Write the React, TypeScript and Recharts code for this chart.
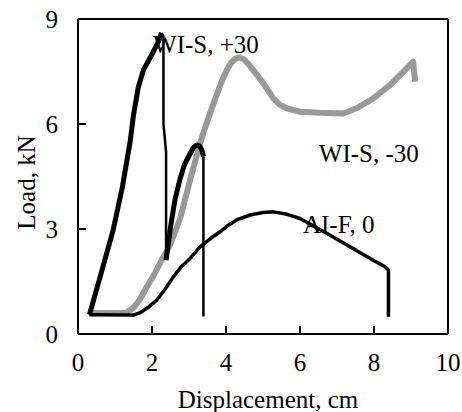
import { LineChart, Line, XAxis, YAxis, ReferenceLine, ReferenceDot, Label } from 'recharts';

// displacement (cm) / load (kN)
const plus30Rise = [
    { x: 0.31, y: 0.55 }, { x: 0.6, y: 1.64 }, { x: 0.95, y: 2.97 }, { x: 1.2, y: 4.2 },
    { x: 1.41, y: 5.5 }, { x: 1.5, y: 6.26 }, { x: 1.63, y: 7.05 }, { x: 1.77, y: 7.55 },
    { x: 1.99, y: 7.97 }, { x: 2.17, y: 8.35 }, { x: 2.26, y: 8.6 },
];
const plus30Drop = [
    { x: 2.26, y: 8.6 }, { x: 2.31, y: 8.5 }, { x: 2.31, y: 6.0 }, { x: 2.38, y: 5.2 },
    { x: 2.38, y: 2.15 },
];
const plus30Second = [
    { x: 2.38, y: 2.11 }, { x: 2.5, y: 3.05 }, { x: 2.62, y: 3.83 }, { x: 2.75, y: 4.4 },
    { x: 2.88, y: 4.85 }, { x: 3.03, y: 5.15 }, { x: 3.12, y: 5.33 }, { x: 3.21, y: 5.4 },
    { x: 3.29, y: 5.37 }, { x: 3.35, y: 5.25 }, { x: 3.39, y: 5.07 },
];
const plus30Fall = [
    { x: 3.39, y: 5.07 }, { x: 3.39, y: 0.5 },
];
const minus30 = [
    { x: 0.31, y: 0.6 }, { x: 1.31, y: 0.61 }, { x: 1.5, y: 0.75 }, { x: 1.68, y: 1.0 },
    { x: 1.86, y: 1.35 }, { x: 2.06, y: 1.7 }, { x: 2.26, y: 2.11 }, { x: 2.49, y: 2.55 },
    { x: 2.76, y: 3.3 }, { x: 3.03, y: 4.4 }, { x: 3.3, y: 5.45 }, { x: 3.5, y: 6.1 },
    { x: 3.7, y: 6.69 }, { x: 3.88, y: 7.2 }, { x: 4.02, y: 7.54 }, { x: 4.14, y: 7.75 },
    { x: 4.26, y: 7.87 }, { x: 4.36, y: 7.9 }, { x: 4.48, y: 7.85 }, { x: 4.6, y: 7.72 },
    { x: 4.74, y: 7.54 }, { x: 5.01, y: 7.16 }, { x: 5.28, y: 6.73 }, { x: 5.45, y: 6.55 },
    { x: 5.64, y: 6.45 }, { x: 6.0, y: 6.35 }, { x: 6.54, y: 6.32 }, { x: 7.17, y: 6.3 },
    { x: 7.53, y: 6.45 }, { x: 7.98, y: 6.73 }, { x: 8.43, y: 7.11 }, { x: 8.79, y: 7.49 },
    { x: 9.06, y: 7.78 }, { x: 9.11, y: 7.21 },
];
const aif0 = [
    { x: 0.31, y: 0.55 }, { x: 1.5, y: 0.54 }, { x: 1.7, y: 0.62 }, { x: 1.92, y: 0.78 },
    { x: 2.13, y: 0.97 }, { x: 2.35, y: 1.27 }, { x: 2.58, y: 1.64 }, { x: 2.8, y: 1.93 },
    { x: 3.03, y: 2.16 }, { x: 3.3, y: 2.49 }, { x: 3.57, y: 2.72 }, { x: 3.84, y: 2.92 },
    { x: 4.05, y: 3.1 }, { x: 4.29, y: 3.26 }, { x: 4.65, y: 3.4 }, { x: 5.0, y: 3.47 },
    { x: 5.28, y: 3.49 }, { x: 5.65, y: 3.42 }, { x: 6.0, y: 3.3 }, { x: 6.72, y: 2.88 },
    { x: 7.35, y: 2.49 }, { x: 7.98, y: 2.11 }, { x: 8.3, y: 1.92 }, { x: 8.39, y: 1.83 },
    { x: 8.39, y: 0.49 },
];

const xTicks = [0, 2, 4, 6, 8, 10];
const yTicks = [0, 3, 6, 9];
const notes = [
    { x: 2.03, y: 8.03, text: 'WI-S, +30' },
    { x: 6.51, y: 4.91, text: 'WI-S, -30' },
    { x: 6.08, y: 2.89, text: 'AI-F, 0' },
];

const font = '"Liberation Serif", "Times New Roman", serif';
const fontSize = 25;

const noteLabel = (text: string) => (props: any) => {
    const vb = props.viewBox || {};
    return (
        <text x={vb.x} y={vb.y} fontFamily={font} fontSize={fontSize} fill="#000" textAnchor="start">
            {text}
        </text>
    );
};

export default function App() {
    return (
        <div style={{ position: 'absolute', left: 0, top: 0, background: '#fff' }}>
            <LineChart width={462} height={412} margin={{ top: 19, right: 14, bottom: 0, left: 0 }}>
                <XAxis
                    type="number"
                    dataKey="x"
                    domain={[0, 10]}
                    ticks={xTicks}
                    allowDataOverflow
                    height={78}
                    tickSize={-8}
                    tickMargin={27}
                    tick={{ fill: '#000', fontSize, fontFamily: font }}
                    tickLine={{ stroke: '#000', strokeWidth: 2 }}
                    axisLine={{ stroke: '#000', strokeWidth: 2 }}
                >
                    <Label
                        content={(props: any) => {
                            const vb = props.viewBox;
                            return (
                                <text x={vb.x + vb.width / 2 + 5} y={vb.y + vb.height - 4} textAnchor="middle"
                                    fontFamily={font} fontSize={fontSize} fill="#000">
                                    Displacement, cm
                                </text>
                            );
                        }}
                    />
                </XAxis>
                <YAxis
                    type="number"
                    dataKey="y"
                    domain={[0, 9]}
                    ticks={yTicks}
                    allowDataOverflow
                    width={78}
                    tickSize={-8}
                    tickMargin={28}
                    tick={{ fill: '#000', fontSize, fontFamily: font }}
                    tickLine={{ stroke: '#000', strokeWidth: 2 }}
                    axisLine={{ stroke: '#000', strokeWidth: 2 }}
                >
                    <Label
                        content={(props: any) => {
                            const vb = props.viewBox;
                            const cx = vb.x + 26;
                            const cy = vb.y + vb.height / 2 + 6;
                            return (
                                <text x={cx} y={cy} transform={`rotate(-90 ${cx} ${cy})`} textAnchor="middle"
                                    dominantBaseline="central" fontFamily={font} fontSize={fontSize} fill="#000">
                                    Load, kN
                                </text>
                            );
                        }}
                    />
                </YAxis>
                <ReferenceLine y={9} stroke="#000" strokeWidth={2} />
                <ReferenceLine x={10} stroke="#000" strokeWidth={2} />
                {notes.map((n) => (
                    <ReferenceDot key={n.text} x={n.x} y={n.y} r={0} stroke="none" fill="none">
                        <Label content={noteLabel(n.text)} />
                    </ReferenceDot>
                ))}
                <Line data={minus30} dataKey="y" type="linear" stroke="#999999" strokeWidth={6}
                    dot={false} isAnimationActive={false} strokeLinejoin="round" />
                <Line data={aif0} dataKey="y" type="linear" stroke="#000" strokeWidth={3.5}
                    dot={false} isAnimationActive={false} strokeLinejoin="round" />
                <Line data={plus30Rise} dataKey="y" type="linear" stroke="#000" strokeWidth={5}
                    dot={false} isAnimationActive={false} strokeLinejoin="round" />
                <Line data={plus30Drop} dataKey="y" type="linear" stroke="#000" strokeWidth={2.5}
                    dot={false} isAnimationActive={false} strokeLinejoin="round" />
                <Line data={plus30Second} dataKey="y" type="linear" stroke="#000" strokeWidth={5}
                    dot={false} isAnimationActive={false} strokeLinejoin="round" />
                <Line data={plus30Fall} dataKey="y" type="linear" stroke="#000" strokeWidth={2.5}
                    dot={false} isAnimationActive={false} strokeLinejoin="round" />
            </LineChart>
        </div>
    );
}
